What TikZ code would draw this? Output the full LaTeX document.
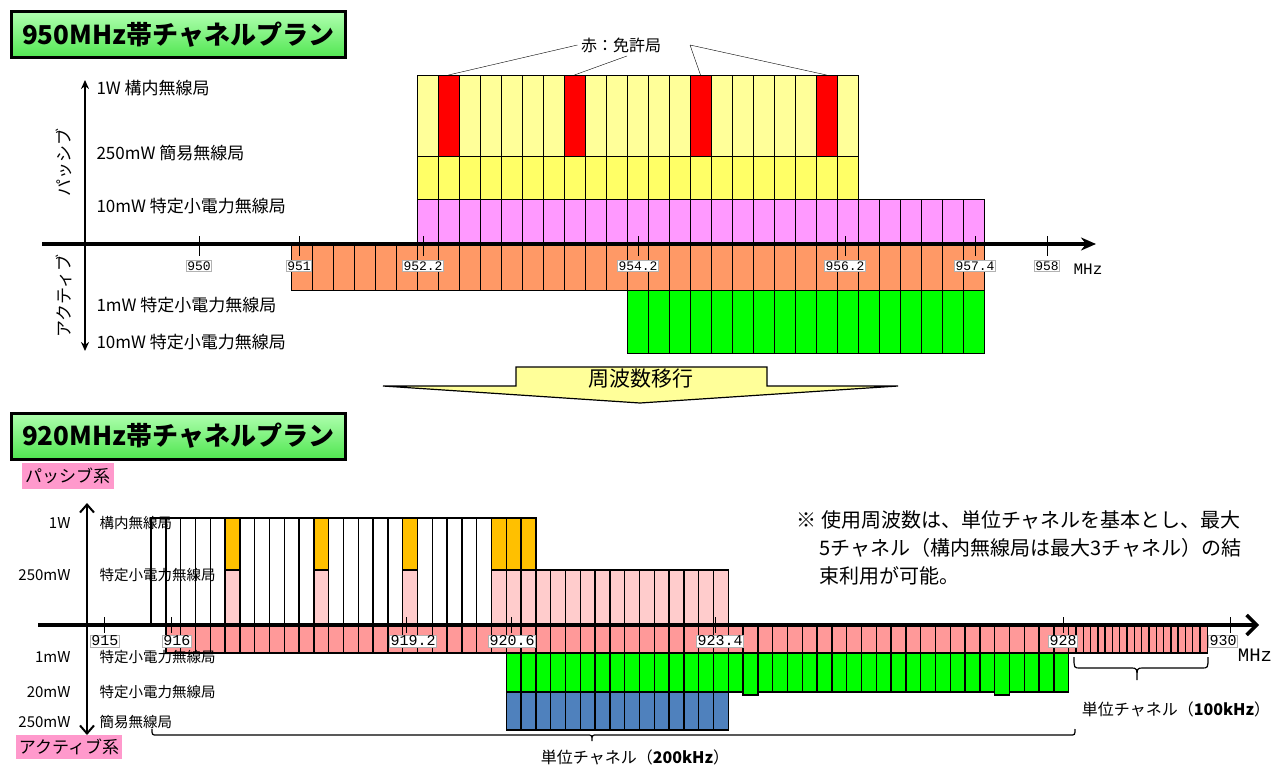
\documentclass[tikz,border=0pt]{standalone}
\usepackage{fontspec}
\setmainfont{Noto Sans CJK JP}
\newfontfamily\tickfont{Liberation Mono}
\usetikzlibrary{arrows.meta}

\definecolor{pale}{HTML}{FFFF99}
\definecolor{lemon}{HTML}{FFFF66}
\definecolor{lavpink}{HTML}{FF99FF}
\definecolor{apricot}{HTML}{FF9966}
\definecolor{lime}{HTML}{00FF00}
\definecolor{amber}{HTML}{FFC000}
\definecolor{blush}{HTML}{FFCCCC}
\definecolor{salmon}{HTML}{FF9999}
\definecolor{steel}{HTML}{4F81BD}
\definecolor{tagpink}{HTML}{FF99CC}
\definecolor{titlehi}{HTML}{B0FFB0}
\definecolor{titlelo}{HTML}{50E650}

\tikzset{
  sz/.style={font=\fontsize{#1}{#1}\selectfont},
  ch/.style={draw, line width=0.8pt},
  chb/.style={draw, line width=1.4pt},
  titlebox/.style={draw, line width=3pt, top color=titlehi, bottom color=titlelo,
    minimum width=334, minimum height=46, inner sep=0pt,
    font=\fontsize{26}{26}\selectfont\bfseries},
  tagbox/.style={fill=tagpink, inner sep=0pt, sz=17},
  tickbox/.style={fill=white, draw=gray!60, line width=0.5pt, inner sep=1pt,
    font=\tickfont\fontsize{#1}{#1}\selectfont},
  lbl/.style={anchor=west, sz=17},
  lblb/.style={anchor=west, sz=14.5},
}

\begin{document}
\begin{tikzpicture}[x=1pt, y=-1pt]
\useasboundingbox (0,0) rectangle (1274,765);

% 950MHz band
\node[titlebox] (t950) at (178,35) {950MHz帯チャネルプラン};

\foreach \k in {0,...,20}
  \draw[ch, fill=pale] (417+\k*21,75) rectangle ++(21,81);
\foreach \k in {1,7,13,19}
  \draw[ch, fill=red] (417+\k*21,75) rectangle ++(21,81);
\foreach \k in {0,...,20}
  \draw[ch, fill=lemon] (417+\k*21,156) rectangle ++(21,43);
\foreach \k in {0,...,26}
  \draw[ch, fill=lavpink] (417+\k*21,199) rectangle ++(21,45);
\foreach \k in {-6,...,26}
  \draw[ch, fill=apricot] (417+\k*21,244) rectangle ++(21,46);
\foreach \k in {10,...,26}
  \draw[ch, fill=lime] (417+\k*21,290) rectangle ++(21,63);

% licensed channels
\node[sz=16] (lic) at (621,45) {赤：免許局};
\coordinate (fork) at (690,45);
\foreach \k [count=\n] in {1,7,13,19}
  \coordinate (r\n) at (427.5+\k*21,75);
\draw (lic.west) -- (r1);
\draw ([xshift=6]lic.south) -- (r2);
\draw (fork) -- (r3) (fork) -- (r4);

\draw[line width=4pt, -{Stealth[length=15pt,width=13pt]}] (42,244) -- (1096,244);
\draw[line width=1.6pt, {Stealth[length=9pt,width=8pt]}-{Stealth[length=9pt,width=8pt]}] (85,80) -- (85,351);

\node[lbl] (p1) at (93,88) {1W 構内無線局};
\node[lbl] (p2) at (93,153) {250mW 簡易無線局};
\node[lbl] (p3) at (93,206) {10mW 特定小電力無線局};
\node[lbl] (a1) at (93,305) {1mW 特定小電力無線局};
\node[lbl] (a2) at (93,342) {10mW 特定小電力無線局};
\node[sz=17, rotate=90] (pas) at (64,162) {パッシブ};
\node[sz=17, rotate=90] (act) at (64,296) {アクティブ};

\foreach \x/\t [count=\n] in {199/950,299/951,423/952.2,638/954.2,845/956.2,975/957.4,1047/958} {
  \draw[line width=0.8pt] (\x,236) -- (\x,256);
  \node[tickbox=13] (ft\n) at (\x,266) {\t};
}
\node[font=\tickfont\fontsize{16}{16}\selectfont] (mhz1) at (1088,269) {MHz};

% transition arrow
\draw[fill=pale, line width=1.2pt] (383,386) -- (516,386) -- (516,367) -- (767,367)
  -- (767,386) -- (898,386) -- (640,403) -- cycle;
\node[sz=21] (move) at (641,379) {周波数移行};

% 920MHz band
\node[titlebox] (t920) at (178,436) {920MHz帯チャネルプラン};
\node[tagbox, minimum width=92, minimum height=26] (pas2) at (67.5,476) {パッシブ系};
\node[tagbox, minimum width=106, minimum height=24] (act2) at (69,747) {アクティブ系};

\foreach \k in {0,...,25}
  \draw[chb, fill=white] (151+\k*14.8,518) rectangle ++(14.8,107);
\foreach \k in {5,11,17,23,24,25}
  \draw[chb, fill=amber] (151+\k*14.8,518) rectangle ++(14.8,52);
\foreach \k in {5,11,17,23,24,...,38}
  \draw[chb, fill=blush] (151+\k*14.8,570) rectangle ++(14.8,55);
\foreach \k in {1,...,61}
  \draw[chb, fill=salmon] (151+\k*14.8,625) rectangle ++(14.8,28);
\foreach \j in {0,...,18}
  \draw[chb, fill=salmon] (1068.6+\j*7.3,625) rectangle ++(7.3,28);
\foreach \k in {24,...,61}
  \draw[chb, fill=lime] (151+\k*14.8,653) rectangle ++(14.8,39);
\foreach \k in {40,57}
  \draw[chb, fill=lime] (151+\k*14.8,653) rectangle ++(14.8,42);
\foreach \k in {24,...,38}
  \draw[chb, fill=steel] (151+\k*14.8,692) rectangle ++(14.8,38);

\draw[line width=3.5pt, -{Straight Barb[length=10pt,width=20pt]}] (38,625) -- (1259,625);
\draw[line width=2pt, {Straight Barb[length=8pt,width=14pt]}-{Straight Barb[length=8pt,width=14pt]}] (87,503) -- (87,735);

\foreach \x/\lx/\t [count=\n] in {104/105/915,171/177/916,406/413/919.2,511/512/920.6,715/720/923.4,1063/1063/928,1230/1223/930} {
  \draw[line width=1pt] (\x,617) -- (\x,633);
  \node[tickbox=15] (fb\n) at (\lx,641) {\t};
}
\node[font=\tickfont\fontsize{19}{19}\selectfont] (mhz2) at (1255,655) {MHz};

\foreach \y/\w/\t [count=\n] in {523/1W/構内無線局,575/250mW/特定小電力無線局,657/1mW/特定小電力無線局,692/20mW/特定小電力無線局,722/250mW/簡易無線局} {
  \node[anchor=east, sz=15] (pw\n) at (74,\y) {\w};
  \node[lblb] (st\n) at (96,\y) {\t};
}

\node[anchor=west, sz=20] (n1) at (793,520) {※ 使用周波数は、単位チャネルを基本とし、最大};
\node[anchor=west, sz=20] (n2) at (816,548) {5チャネル（構内無線局は最大3チャネル）の結};
\node[anchor=west, sz=20] (n3) at (816,576) {束利用が可能。};

% unit channel brackets
\draw[line width=1.2pt] (152,729) .. controls (152,735) .. (157,735) -- (587,735)
  .. controls (592,735) .. (592,741) .. controls (592,735) .. (597,735) -- (1070,735)
  .. controls (1075,735) .. (1075,729);
\node[sz=16] (u200) at (635,757) {単位チャネル（\textbf{200kHz}）};
\draw[line width=1.2pt] (1074,657) .. controls (1074,668) .. (1080,668) -- (1131,668)
  .. controls (1137,668) .. (1137,680) .. controls (1137,668) .. (1143,668) -- (1202,668)
  .. controls (1208,668) .. (1208,657);
\node[sz=16] (u100) at (1176,709) {単位チャネル（\textbf{100kHz}）};
\end{tikzpicture}
\end{document}
